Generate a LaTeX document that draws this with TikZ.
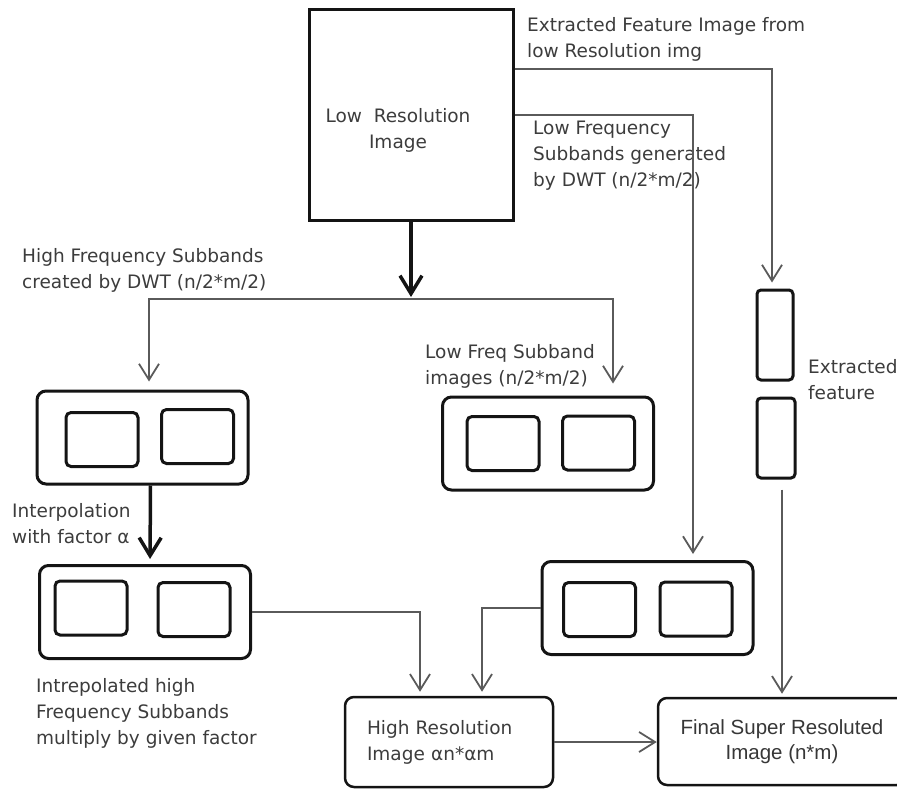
\documentclass[tikz,border=0pt]{standalone}
\usepackage{fontspec}
\setmainfont{DejaVu Sans}
\newfontfamily\finfont{Liberation Sans}
\usepackage{xcolor}
\usepackage{tikz}
\usetikzlibrary{positioning}
\usetikzlibrary{arrows.meta}
\pgfdeclarelayer{nodelayer}
\pgfdeclarelayer{edgelayer}
\pgfsetlayers{nodelayer,edgelayer,main}

\definecolor{txtgrey}{HTML}{3C3C3C}
\definecolor{linegrey}{HTML}{5A5A5A}
\definecolor{boxblack}{HTML}{141414}
\newcommand{\lblfont}{\fontsize{18.5pt}{26pt}\selectfont}

\tikzset{
  conn/.style={draw=linegrey, line width=1.8pt, -{Straight Barb[length=16pt,width=20pt]}, shorten >=6pt},
  thickarr/.style={draw=boxblack, line width=3.5pt, -{Straight Barb[length=18pt,width=22pt]}},
  frame/.style={draw=boxblack, line width=3pt, rounded corners=9pt, minimum width=211pt, minimum height=93pt, inner sep=0pt},
  subimg/.style={draw=boxblack, line width=3pt, rounded corners=5pt, minimum width=72pt, minimum height=54pt, inner sep=0pt},
  featbox/.style={draw=boxblack, line width=3pt, rounded corners=4pt, minimum width=36pt, inner sep=0pt},
  outbox/.style={draw=boxblack, line width=2.5pt, rounded corners=9pt, text=txtgrey, font=\lblfont},
  lbl/.style={anchor=north west, inner sep=0pt, align=left, text=txtgrey, font=\lblfont},
}

\begin{document}
\begin{tikzpicture}[x=1pt, y=-1pt]
  \useasboundingbox (0,0) rectangle (897,789);
  \begin{pgfonlayer}{nodelayer}
    % source image
    \node [draw=boxblack, line width=3pt, minimum width=204pt, minimum height=210pt] (lowres) at (411,115) {};
    \node [lbl, anchor=center, align=center] (lowrestxt) at (398,130) {Low\ \ Resolution\\Image};
    % subband frames
    \node [frame] (hfsub) at (142.5,437.5) {};
    \node [subimg] (hfsub1) at (102,439.5) {};
    \node [subimg] (hfsub2) at (197.5,436.5) {};
    \node [frame] (hfint) at (145,612) {};
    \node [subimg] (hfint1) at (91,608) {};
    \node [subimg] (hfint2) at (194,609.5) {};
    \node [frame] (lfsub) at (548,443.5) {};
    \node [subimg] (lfsub1) at (503,443.5) {};
    \node [subimg] (lfsub2) at (598.5,443) {};
    \node [frame] (lfdwt) at (647.5,608) {};
    \node [subimg] (lfdwt1) at (599.5,609.5) {};
    \node [subimg] (lfdwt2) at (696,609) {};
    % feature strips
    \node [featbox, minimum height=90pt] (feat1) at (775,335) {};
    \node [featbox, minimum height=80pt, minimum width=38pt] (feat2) at (776,438) {};
    % outputs
    \node [outbox, minimum width=208pt, minimum height=90pt, inner xsep=22pt, text width=164pt, align=left] (highres) at (449,742) {High Resolution\\Image αn*αm};
    \node [outbox, minimum width=248pt, minimum height=87pt, align=center, text=boxblack!85, font=\finfont\fontsize{20.5pt}{25pt}\selectfont] (final) at (782,741.5) {Final Super Resoluted\\Image (n*m)};
    % labels
    \node [lbl] (exfeatlbl) at (527,17) {Extracted Feature Image from\\low Resolution img};
    \node [lbl] (lfdwtlbl) at (533,121) {Low Frequency\\Subbands generated\\by DWT (n/2*m/2)};
    \node [lbl] (hfdwtlbl) at (22,248) {High Frequency Subbands\\created by DWT (n/2*m/2)};
    \node [lbl] (lfsublbl) at (425,344) {Low Freq Subband\\images (n/2*m/2)};
    \node [lbl] (featlbl) at (808,359) {Extracted\\feature};
    \node [lbl] (interplbl) at (12,503) {Interpolation\\with factor α};
    \node [lbl] (hfintlbl) at (36,678) {Intrepolated high\\Frequency Subbands\\multiply by given factor};
  \end{pgfonlayer}
  \begin{pgfonlayer}{edgelayer}
    \coordinate (split) at (411,299);
    \draw [thickarr] (lowres.south) -- ([yshift=2pt]split);
    \draw [conn, shorten >=8pt] (split) -| ([xshift=6.5pt]hfsub.north);
    \draw [conn, shorten >=12pt] (split) -| ([xshift=65pt]lfsub.north);
    \draw [conn] (lowres.east) -| ([xshift=45.5pt]lfdwt.north);
    \draw [conn] ([yshift=46pt]lowres.east) -| ([xshift=-3pt]feat1.north);
    \draw [conn, shorten >=3pt] ([xshift=6pt,yshift=-10pt]feat2.south) -- (final);
    \draw [thickarr, shorten >=5pt] ([xshift=8pt]hfsub.south) -- ([xshift=5pt]hfint.north);
    \draw [conn, shorten >=4pt] (hfint.east) -| ([xshift=-29pt]highres.north);
    \draw [conn, shorten >=4pt] (lfdwt.west) -| ([xshift=33pt]highres.north);
    \draw [conn, shorten >=0pt] (highres.east) -- (highres.east -| final.west);
  \end{pgfonlayer}
\end{tikzpicture}
\end{document}
